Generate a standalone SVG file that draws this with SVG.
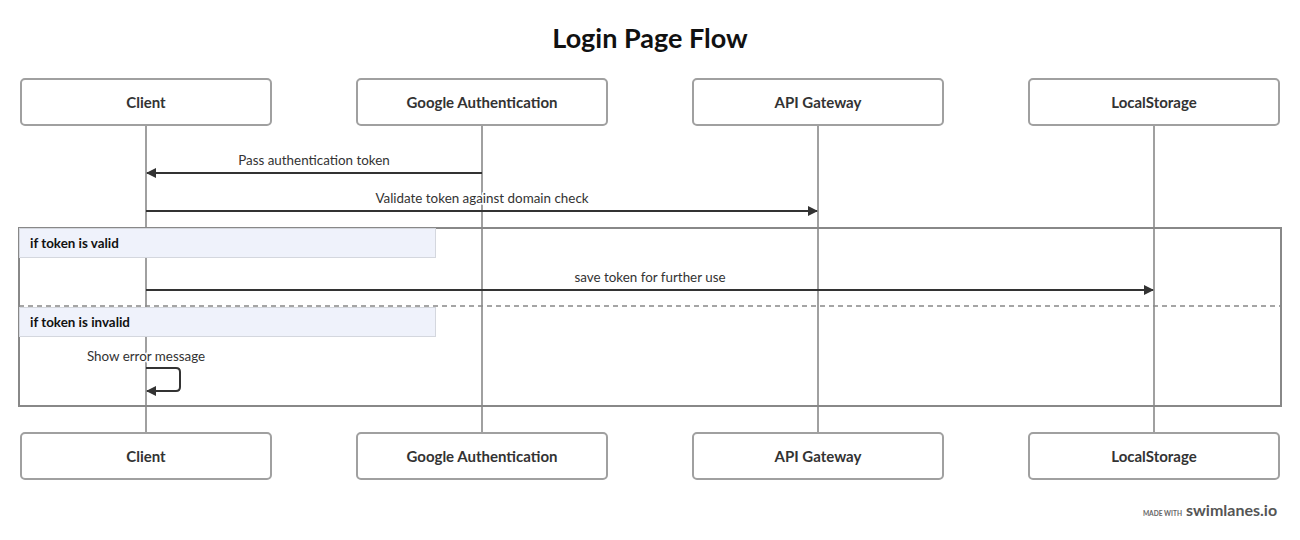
<svg xmlns="http://www.w3.org/2000/svg" width="1300" height="540" viewBox="0 0 1300 540">
<style>
text{font-family:"Source Sans Pro","Lato","Noto Sans",sans-serif}
.title{font-size:27px;font-weight:bold;fill:#111;text-anchor:middle}
.box{fill:#fff;stroke:#a0a0a0;stroke-width:2}
.name{font-size:15px;font-weight:bold;fill:#333;text-anchor:middle}
.life{stroke:#a0a0a0;stroke-width:2}
.msg{stroke:#333;stroke-width:2;fill:none}
.ml{font-size:13.4px;fill:#333;text-anchor:middle;paint-order:stroke;stroke:#fff;stroke-width:3px}
.frame{fill:none;stroke:#888;stroke-width:2}
.lab{fill:#eff2fb;stroke:#d4d7de;stroke-width:1}
.lt{font-size:13.4px;font-weight:bold;fill:#111}
</style>
<defs>
<marker id="ah" markerWidth="10" markerHeight="10" refX="9" refY="5" orient="auto" markerUnits="userSpaceOnUse">
<path d="M0,0 L10,5 L0,10 z" fill="#333"/>
</marker>
</defs>
<rect width="1300" height="540" fill="#fff"/>
<text class="title" x="650" y="48">Login Page Flow</text>
<g id="lifelines">
<line class="life" x1="146" y1="125" x2="146" y2="433"/>
<line class="life" x1="482" y1="125" x2="482" y2="433"/>
<line class="life" x1="818" y1="125" x2="818" y2="433"/>
<line class="life" x1="1154" y1="125" x2="1154" y2="433"/>
</g>
<g id="alt-frame">
<rect class="frame" x="19" y="228" width="1262" height="178"/>
<line x1="19" y1="306" x2="1281" y2="306" stroke="#888" stroke-width="1.5" stroke-dasharray="5,4"/>
<rect class="lab" x="19.5" y="228.5" width="416" height="29"/>
<text class="lt" x="30" y="247.5">if token is valid</text>
<rect class="lab" x="19.5" y="307.5" width="416" height="29"/>
<text class="lt" x="30" y="326.5">if token is invalid</text>
</g>
<g id="connectors">
<line class="msg" x1="482" y1="173" x2="147" y2="173" marker-end="url(#ah)"/>
<text class="ml" x="314" y="164.5">Pass authentication token</text>
<line class="msg" x1="146" y1="211" x2="817" y2="211" marker-end="url(#ah)"/>
<text class="ml" x="482" y="202.5">Validate token against domain check</text>
<line class="msg" x1="146" y1="290" x2="1153" y2="290" marker-end="url(#ah)"/>
<text class="ml" x="650" y="281.5">save token for further use</text>
<path class="msg" d="M146,368 H176 Q180,368 180,372 V387 Q180,391 176,391 H147" marker-end="url(#ah)"/>
<text class="ml" x="146" y="360.5">Show error message</text>
</g>
<g id="client-top"><rect class="box" x="21" y="79" width="250" height="46" rx="4"/><text class="name" x="146" y="107.5">Client</text></g>
<g id="google-top"><rect class="box" x="357" y="79" width="250" height="46" rx="4"/><text class="name" x="482" y="107.5">Google Authentication</text></g>
<g id="api-top"><rect class="box" x="693" y="79" width="250" height="46" rx="4"/><text class="name" x="818" y="107.5">API Gateway</text></g>
<g id="local-top"><rect class="box" x="1029" y="79" width="250" height="46" rx="4"/><text class="name" x="1154" y="107.5">LocalStorage</text></g>
<g id="client-bottom"><rect class="box" x="21" y="433" width="250" height="46" rx="4"/><text class="name" x="146" y="461.5">Client</text></g>
<g id="google-bottom"><rect class="box" x="357" y="433" width="250" height="46" rx="4"/><text class="name" x="482" y="461.5">Google Authentication</text></g>
<g id="api-bottom"><rect class="box" x="693" y="433" width="250" height="46" rx="4"/><text class="name" x="818" y="461.5">API Gateway</text></g>
<g id="local-bottom"><rect class="box" x="1029" y="433" width="250" height="46" rx="4"/><text class="name" x="1154" y="461.5">LocalStorage</text></g>
<g id="footer">
<text x="1182" y="516" font-size="6.6" font-weight="bold" fill="#666" text-anchor="end">MADE WITH</text>
<text x="1186" y="516" font-size="16" font-weight="bold" fill="#555">swimlanes.io</text>
</g>
</svg>
